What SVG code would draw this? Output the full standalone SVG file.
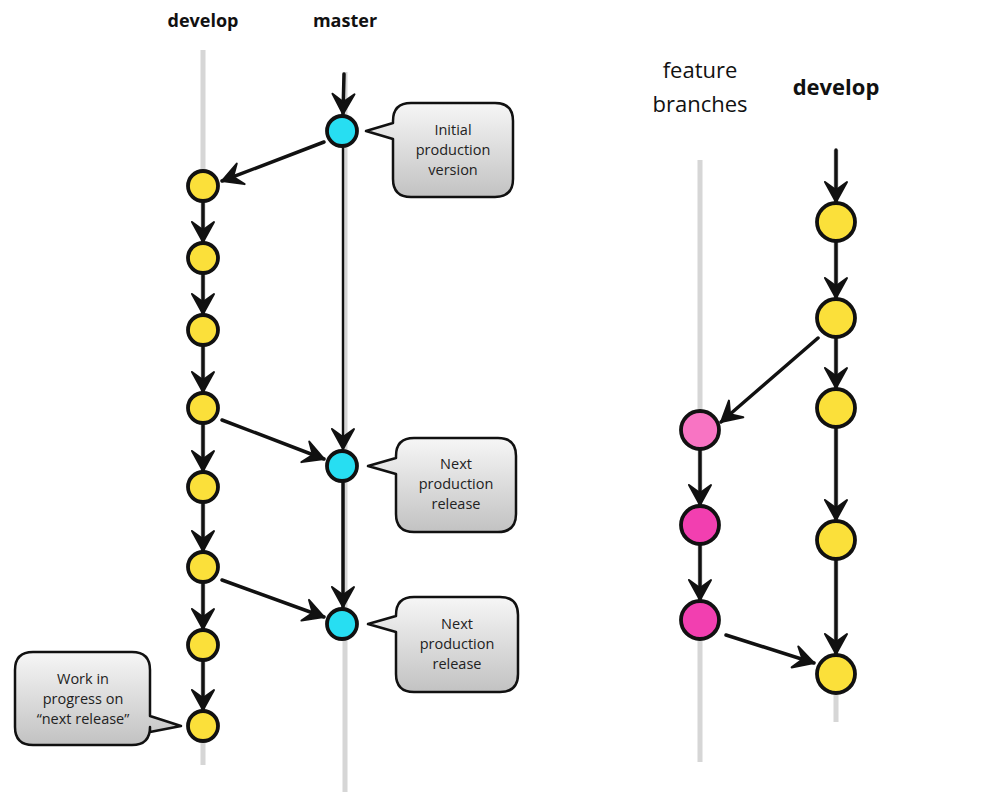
<svg xmlns="http://www.w3.org/2000/svg" width="1000" height="804" viewBox="0 0 1000 804">
  <defs>
    <linearGradient id="bubbleFill" x1="0" y1="0" x2="0" y2="1">
      <stop offset="0" stop-color="#f6f6f6"/>
      <stop offset="1" stop-color="#c2c2c2"/>
    </linearGradient>
    <marker id="head" viewBox="-22 -13 24 26" refX="0" refY="0" markerWidth="24" markerHeight="26" markerUnits="userSpaceOnUse" orient="auto">
      <path d="M-20,-11 L0,0 L-20,11 L-12,0 Z" fill="#111" stroke="#111" stroke-width="2" stroke-linejoin="round"/>
    </marker>
    <style>
      .lane { stroke: #d6d6d6; stroke-width: 5; fill: none; }
      .edge { stroke: #111; stroke-width: 3.5; fill: none; marker-end: url(#head); stroke-linecap: round; }
      .thin { stroke-width: 2.4; }
      .commit { stroke: #111; stroke-width: 3.8; }
      .dev { fill: #fbe03a; }
      .mst { fill: #27def2; }
      .feat1 { fill: #f874c3; }
      .feat2 { fill: #f23fb0; }
      .bubble { fill: url(#bubbleFill); stroke: #111; stroke-width: 2.5; stroke-linejoin: round; }
      .btxt { font-family: "Open Sans", "Liberation Sans", sans-serif; font-size: 14.5px; fill: #222; text-anchor: middle; }
      .head { font-family: "Open Sans", "Liberation Sans", sans-serif; font-weight: bold; fill: #111; text-anchor: middle; }
      .headReg { font-family: "Open Sans", "Liberation Sans", sans-serif; fill: #111; text-anchor: middle; font-size: 22px; }
    </style>
  </defs>

  <!-- branch titles -->
  <g id="titles">
    <text class="head" x="203" y="27" font-size="18">develop</text>
    <text class="head" x="345" y="27" font-size="18">master</text>
    <text class="headReg" x="700" y="78">feature</text>
    <text class="headReg" x="700" y="112">branches</text>
    <text class="head" x="836" y="95" font-size="22">develop</text>
  </g>

  <!-- branch lanes -->
  <g id="lanes">
    <line class="lane" x1="203" y1="50" x2="203" y2="765"/>
    <line class="lane" x1="345" y1="72" x2="345" y2="792"/>
    <line class="lane" x1="700" y1="160" x2="700" y2="762"/>
    <line class="lane" x1="836" y1="150" x2="836" y2="722"/>
  </g>

  <!-- connectors -->
  <g id="connectors">
    <!-- master -->
    <line class="edge" x1="344" y1="74" x2="343" y2="114"/>
    <line class="edge thin" x1="343" y1="148" x2="343" y2="449"/>
    <line class="edge" x1="343" y1="483" x2="343" y2="607"/>
    <line class="edge" x1="324" y1="142" x2="222" y2="181"/>
    <line class="edge" x1="222" y1="420" x2="324" y2="459"/>
    <line class="edge" x1="222" y1="580" x2="324" y2="617"/>
    <!-- develop (left) -->
    <line class="edge" x1="203" y1="202" x2="203" y2="242"/>
    <line class="edge" x1="203" y1="274" x2="203" y2="314"/>
    <line class="edge" x1="203" y1="346" x2="203" y2="392"/>
    <line class="edge" x1="203" y1="424" x2="203" y2="471"/>
    <line class="edge" x1="203" y1="503" x2="203" y2="551"/>
    <line class="edge" x1="203" y1="583" x2="203" y2="629"/>
    <line class="edge" x1="203" y1="661" x2="203" y2="710"/>
    <!-- develop (right) -->
    <line class="edge" x1="836" y1="150" x2="836" y2="202"/>
    <line class="edge" x1="836" y1="242" x2="836" y2="298"/>
    <line class="edge" x1="836" y1="338" x2="836" y2="388"/>
    <line class="edge" x1="836" y1="428" x2="836" y2="520"/>
    <line class="edge" x1="836" y1="560" x2="836" y2="654"/>
    <line class="edge" x1="818" y1="338" x2="721" y2="422"/>
    <!-- feature -->
    <line class="edge" x1="700" y1="450" x2="700" y2="505"/>
    <line class="edge" x1="700" y1="545" x2="700" y2="600"/>
    <line class="edge" x1="726" y1="635" x2="814" y2="663"/>
  </g>

  <!-- master commits -->
  <g id="master-1"><circle class="commit mst" cx="342" cy="131" r="15"/></g>
  <g id="master-2"><circle class="commit mst" cx="342" cy="466" r="15"/></g>
  <g id="master-3"><circle class="commit mst" cx="342" cy="624" r="15"/></g>

  <!-- develop commits (left) -->
  <g id="develop-1"><circle class="commit dev" cx="203" cy="186" r="15"/></g>
  <g id="develop-2"><circle class="commit dev" cx="203" cy="258" r="15"/></g>
  <g id="develop-3"><circle class="commit dev" cx="203" cy="330" r="15"/></g>
  <g id="develop-4"><circle class="commit dev" cx="203" cy="408" r="15"/></g>
  <g id="develop-5"><circle class="commit dev" cx="203" cy="487" r="15"/></g>
  <g id="develop-6"><circle class="commit dev" cx="203" cy="567" r="15"/></g>
  <g id="develop-7"><circle class="commit dev" cx="203" cy="645" r="15"/></g>
  <g id="develop-8"><circle class="commit dev" cx="203" cy="726" r="15"/></g>

  <!-- develop commits (right) -->
  <g id="rdevelop-1"><circle class="commit dev" cx="836" cy="222" r="19"/></g>
  <g id="rdevelop-2"><circle class="commit dev" cx="836" cy="318" r="19"/></g>
  <g id="rdevelop-3"><circle class="commit dev" cx="836" cy="408" r="19"/></g>
  <g id="rdevelop-4"><circle class="commit dev" cx="836" cy="540" r="19"/></g>
  <g id="rdevelop-5"><circle class="commit dev" cx="836" cy="674" r="19"/></g>

  <!-- feature commits -->
  <g id="feature-1"><circle class="commit feat1" cx="700" cy="430" r="19"/></g>
  <g id="feature-2"><circle class="commit feat2" cx="700" cy="525" r="19"/></g>
  <g id="feature-3"><circle class="commit feat2" cx="700" cy="620" r="19"/></g>

  <!-- callouts -->
  <g id="note-initial">
    <path class="bubble" d="M411,103 H495 Q513,103 513,121 V179 Q513,197 495,197 H411 Q393,197 393,179 V139 L366,131 L393,123 V121 Q393,103 411,103 Z"/>
    <text class="btxt" x="453" y="135">Initial</text>
    <text class="btxt" x="453" y="155">production</text>
    <text class="btxt" x="453" y="175">version</text>
  </g>
  <g id="note-release-1">
    <path class="bubble" d="M414,438 H498 Q516,438 516,456 V514 Q516,532 498,532 H414 Q396,532 396,514 V474 L368,466 L396,458 V456 Q396,438 414,438 Z"/>
    <text class="btxt" x="456" y="469">Next</text>
    <text class="btxt" x="456" y="489">production</text>
    <text class="btxt" x="456" y="509">release</text>
  </g>
  <g id="note-release-2">
    <path class="bubble" d="M414,597 H500 Q518,597 518,615 V674 Q518,692 500,692 H414 Q396,692 396,674 V632 L368,624 L396,616 V615 Q396,597 414,597 Z"/>
    <text class="btxt" x="457" y="629">Next</text>
    <text class="btxt" x="457" y="649">production</text>
    <text class="btxt" x="457" y="669">release</text>
  </g>
  <g id="note-wip">
    <path class="bubble" d="M33,652 H132 Q150,652 150,670 V716 L181,726 L150,732 V727 Q150,745 132,745 H33 Q15,745 15,727 V670 Q15,652 33,652 Z"/>
    <text class="btxt" x="83" y="684">Work in</text>
    <text class="btxt" x="83" y="704">progress on</text>
    <text class="btxt" x="83" y="724">“next release”</text>
  </g>
</svg>
